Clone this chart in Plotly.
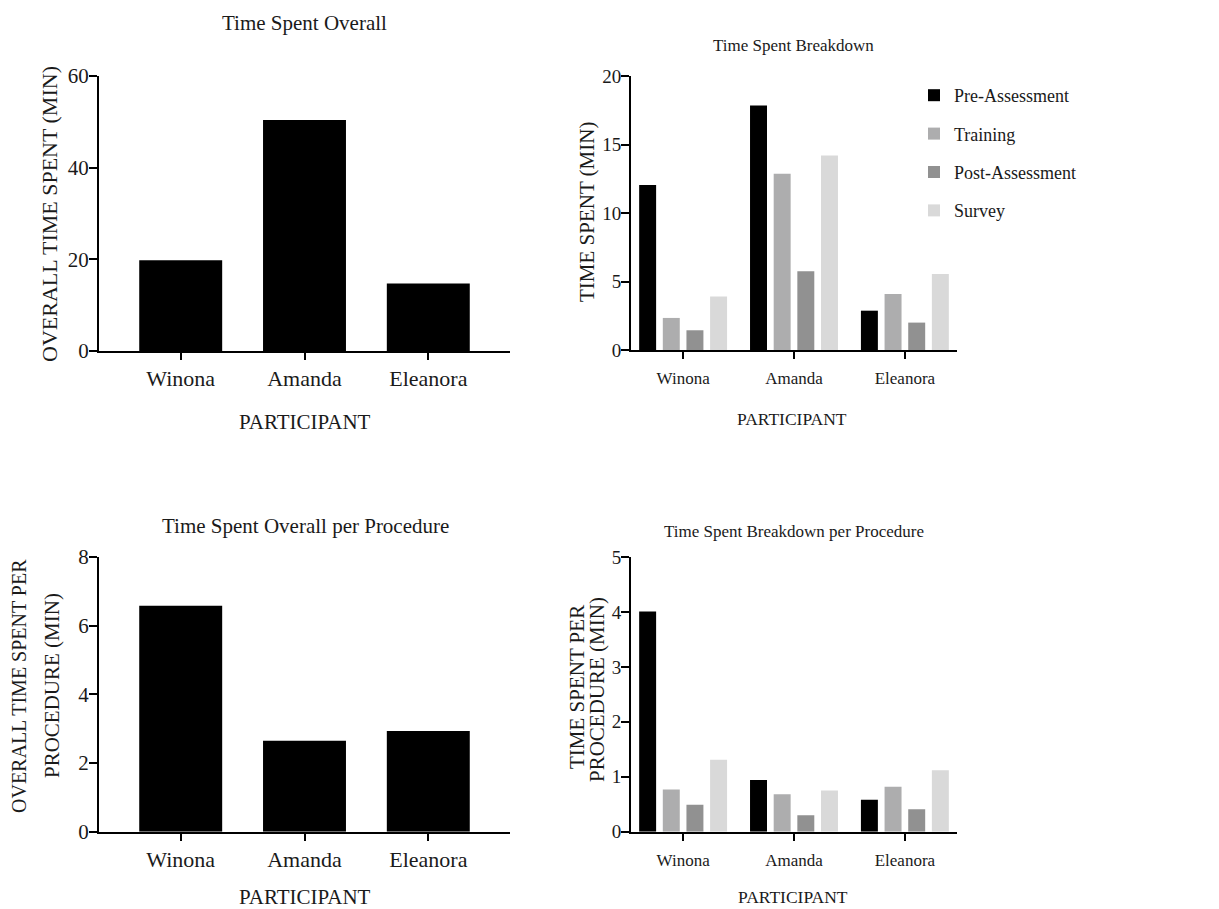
import plotly.graph_objects as go

W, H = 1219, 909
OFF = 8  # page body margin offset

participants = ["Winona", "Amanda", "Eleanora"]
overall_time = [19.8, 50.4, 14.7]
overall_per_proc = [6.58, 2.65, 2.93]

phases = ["Pre-Assessment", "Training", "Post-Assessment", "Survey"]
phase_colors = ["#000000", "#adadae", "#919191", "#d9d9d9"]
breakdown = {
    "Pre-Assessment": [12.05, 17.85, 2.87],
    "Training": [2.34, 12.87, 4.09],
    "Post-Assessment": [1.44, 5.74, 2.0],
    "Survey": [3.9, 14.2, 5.55],
}
breakdown_per_proc = {
    "Pre-Assessment": [4.01, 0.94, 0.58],
    "Training": [0.77, 0.68, 0.82],
    "Post-Assessment": [0.49, 0.30, 0.41],
    "Survey": [1.31, 0.75, 1.12],
}

FONT = "Liberation Serif, Times New Roman, serif"
TXT = "#1a1a1a"

def px_x(p):
    return (p - OFF) / W

def px_y(p):
    return (H - (p - OFF)) / H

fig = go.Figure()

# Left panels
fig.add_trace(go.Bar(x=participants, y=overall_time, marker_color="#000000",
                     marker_line_width=0, width=0.67, showlegend=False,
                     xaxis="x", yaxis="y"))
fig.add_trace(go.Bar(x=participants, y=overall_per_proc, marker_color="#000000",
                     marker_line_width=0, width=0.67, showlegend=False,
                     xaxis="x3", yaxis="y3"))

# Right panels
bw = 0.153
pitch = 0.2133
start = -0.3965
for i, ph in enumerate(phases):
    fig.add_trace(go.Bar(x=participants, y=breakdown[ph], name=ph,
                         marker_color=phase_colors[i], marker_line_width=0,
                         width=bw, offset=start + i * pitch,
                         legendgroup=ph, showlegend=True,
                         xaxis="x2", yaxis="y2"))
    fig.add_trace(go.Bar(x=participants, y=breakdown_per_proc[ph], name=ph,
                         marker_color=phase_colors[i], marker_line_width=0,
                         width=bw, offset=start + i * pitch,
                         legendgroup=ph, showlegend=False,
                         xaxis="x4", yaxis="y4"))

def xaxis(domain, rng, size, anchor, standoff):
    return dict(domain=domain, range=rng, type="category", anchor=anchor,
                showline=True, linecolor="#000000", linewidth=2,
                ticks="outside", ticklen=7, tickwidth=2, tickcolor="#000000",
                showgrid=False, zeroline=False, automargin=False,
                tickfont=dict(family=FONT, size=size, color=TXT),
                ticklabelstandoff=standoff, fixedrange=True)

def yaxis(domain, rng, dtick, size, anchor):
    return dict(domain=domain, range=rng, dtick=dtick, anchor=anchor,
                showline=True, linecolor="#000000", linewidth=2,
                ticks="outside", ticklen=8, tickwidth=2, tickcolor="#000000",
                showgrid=False, zeroline=False, automargin=False,
                tickfont=dict(family=FONT, size=size, color=TXT),
                ticklabelstandoff=-4, fixedrange=True)

xl = [px_x(99), px_x(510)]
xr = [px_x(631), px_x(957)]
yt_l = [px_y(351), px_y(76)]
yt_r = [px_y(350), px_y(76)]
yb = [px_y(831.7), px_y(557)]

fig.update_layout(
    template="none",
    width=W, height=H,
    margin=dict(l=0, r=0, t=0, b=0, pad=0, autoexpand=False),
    paper_bgcolor="white", plot_bgcolor="white",
    barmode="overlay",
    font=dict(family=FONT, color=TXT),
    xaxis=xaxis(xl, [-0.66, 2.66], 22, "y", 0),
    yaxis=yaxis(yt_l, [0, 60], 20, 21, "x"),
    xaxis2=xaxis(xr, [-0.47, 2.47], 17, "y2", 5),
    yaxis2=yaxis(yt_r, [0, 20], 5, 19, "x2"),
    xaxis3=xaxis(xl, [-0.66, 2.66], 22, "y3", 0),
    yaxis3=yaxis(yb, [0, 8], 2, 21, "x3"),
    xaxis4=xaxis(xr, [-0.47, 2.47], 17, "y4", 5),
    yaxis4=yaxis(yb, [0, 5], 1, 19, "x4"),
    legend=dict(x=px_x(914), y=px_y(77), xanchor="left", yanchor="top",
                font=dict(family=FONT, size=18, color=TXT),
                tracegroupgap=12, bgcolor="rgba(0,0,0,0)", borderwidth=0),
)

ann = []
def text(t, x, y, size, angle=0):
    ann.append(dict(text=t, x=px_x(x), y=px_y(y), xref="paper", yref="paper",
                    xanchor="center", yanchor="middle", showarrow=False,
                    textangle=angle, font=dict(family=FONT, size=size, color=TXT)))

# Titles
text("Time Spent Overall", 304, 23, 21)
text("Time Spent Breakdown", 793, 45, 17)
text("Time Spent Overall per Procedure", 305, 526, 21)
text("Time Spent Breakdown per Procedure", 794, 531, 17)
# X titles
text("PARTICIPANT", 305, 422, 21)
text("PARTICIPANT", 792, 419, 17.5)
text("PARTICIPANT", 305, 897, 21)
text("PARTICIPANT", 793, 897, 17.5)
# Y titles
text("OVERALL TIME SPENT (MIN)", 49, 214, 22, -90)
text("TIME SPENT (MIN)", 587, 212, 21, -90)
text("OVERALL TIME SPENT PER", 19, 686, 20, -90)
text("PROCEDURE (MIN)", 52, 686, 21, -90)
text("TIME SPENT PER", 577, 687, 21, -90)
text("PROCEDURE (MIN)", 597, 690, 21, -90)

fig.update_layout(annotations=ann)

fig.write_html("out.html")
